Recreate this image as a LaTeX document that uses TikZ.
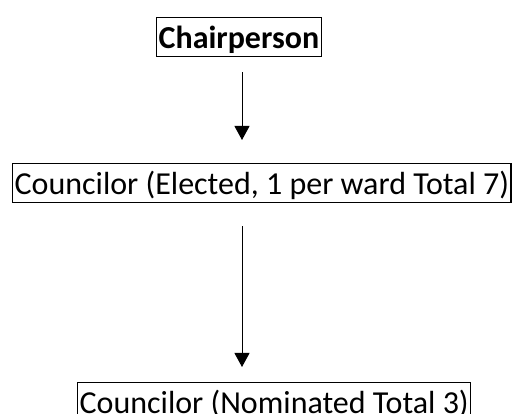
\documentclass[tikz,border=0pt]{standalone}
\usepackage{fontspec}
\setmainfont{Carlito}
\usetikzlibrary{arrows.meta,positioning}

\begin{document}
\begin{tikzpicture}[->,>={Triangle[width=15pt,length=14pt]},x=1pt,y=1pt,line width=1pt,
                    box/.style={draw,line width=1.3pt,->,inner xsep=2pt,inner ysep=0pt,
                                text height=30.5pt,text depth=8.6pt,
                                font=\fontsize{32}{38}\selectfont}]
                \useasboundingbox (0,0) rectangle (513,414);
                \coordinate (spine) at (242,0);
                \node   [box,anchor=north west,font=\fontsize{32}{38}\selectfont\bfseries] (1) at (156,397) {Chairperson};
                \node   [box,anchor=north west]     (2) at (12,251)  {Councilor (Elected, 1 per ward Total 7)};
                \node   [box,anchor=north west]     (3) at (77,32)   {Councilor (Nominated Total 3)};

                \path   (1.south -| spine) edge [shorten <=15pt,shorten >=23pt] (2.north -| spine)
                (2.south -| spine) edge [shorten <=23pt,shorten >=15pt] (3.north -| spine);
            \end{tikzpicture}
\end{document}
